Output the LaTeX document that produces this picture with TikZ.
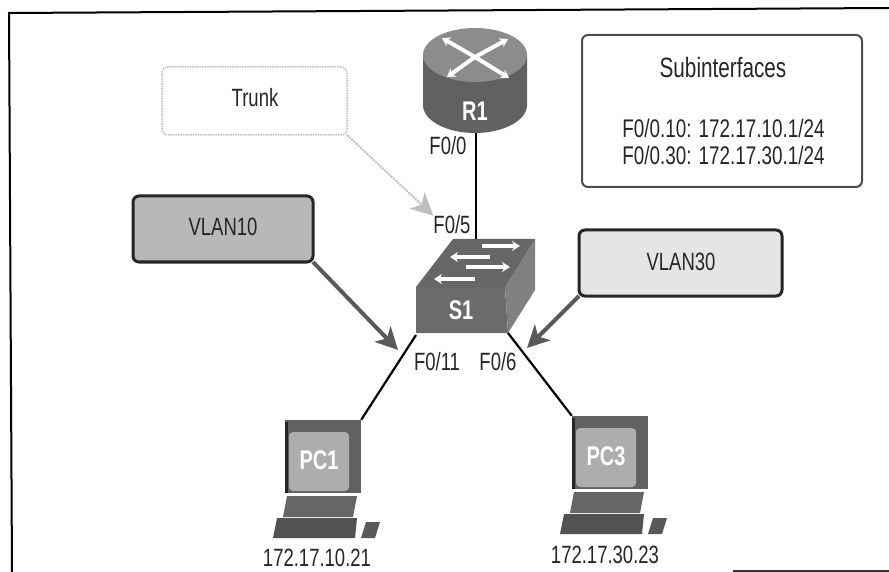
\documentclass[tikz,border=0pt]{standalone}
\usepackage{fontspec}
\setmainfont[FakeStretch=0.74]{Liberation Sans}
\usetikzlibrary{arrows.meta}
\tikzset{
    lbl/.style={font=\fontsize{25}{27}\selectfont, inner sep=0pt, text=black!85},
    devlabel/.style={font=\fontsize{27}{29}\selectfont\bfseries, inner sep=0pt, text=white},
    device/.style={inner sep=0pt, minimum width=#1},
    link/.style={line width=2.2pt, black},
    callout/.style={rounded corners=6pt, inner sep=0pt, outer sep=0pt, align=center, text=black!85},
    pointer/.style={line width=4pt, black!65, -{Stealth[inset=6pt,length=22pt,width=22pt]}},
    whitearrow/.style={line width=4pt, white, -{Stealth[length=8pt,width=10pt]}}
}
% x, y of the monitor top left, name, label
\newcommand{\pcicon}[4] {
	\fill [black!62] (#1,#2) rectangle (#1+76,#2+73);
	\fill [black!85] (#1,#2+2) rectangle (#1+3,#2+73);
	\fill [black!32, rounded corners=4pt] (#1+4,#2+12) rectangle (#1+64,#2+71);
	\fill [black!60] (#1+2,#2+76) -- (#1+72,#2+76) -- (#1+68,#2+97) -- (#1-2,#2+97) -- cycle;
	\fill [black!68] (#1-8,#2+98) -- (#1+72,#2+98) -- (#1+70,#2+118) -- (#1-12,#2+118) -- cycle;
	\fill [black!65] (#1+81,#2+102) -- (#1+95,#2+102) -- (#1+90,#2+118) -- (#1+76,#2+118) -- cycle;
	\node[device=76, minimum height=73] (#3) at (#1+38,#2+36.5) {};
	\node[devlabel] at (#1+34,#2+40) {#4};
}

\begin{document}
\begin{tikzpicture}[x=1pt,y=-1pt]
		\useasboundingbox (0,0) rectangle (889,572);

		% Frame
		\draw [line width=2pt, black] (12,572) -- (9,13) -- (889,8);
		\draw [line width=2pt, black!80] (733,571) -- (889,571);

		% Router
		\fill [black!62] (423,55) -- (423,105) arc [start angle=180, end angle=0, x radius=52, y radius=28] -- (527,55) -- cycle;
		\fill [black!45] (475,55) ellipse [x radius=52, y radius=27];
		\draw [whitearrow] (475,57) -- (442,38);
		\draw [whitearrow] (475,57) -- (509,78);
		\draw [whitearrow] (475,57) -- (508,39);
		\draw [whitearrow] (475,57) -- (447,77);
		\node[device=104, minimum height=105] (r1) at (476,80.5) {};
		\node[devlabel] at (475,111) {R1};

		% Switch
		\fill [black!58] (416,287) -- (505,287) -- (508,333) -- (416,333) -- cycle;
		\fill [black!50] (505,287) -- (535,239) -- (535,290) -- (508,333) -- cycle;
		\fill [black!60] (453,239) -- (535,239) -- (505,287) -- (416,287) -- cycle;
		\draw [whitearrow] (482,246) -- (520,246);
		\draw [whitearrow] (490,257) -- (450,257);
		\draw [whitearrow] (466,267) -- (510,267);
		\draw [whitearrow] (475,279) -- (434,279);
		\node[device=119, minimum height=94] (s1) at (476,286) {};
		\coordinate (s1left) at (416,335);
		\coordinate (s1right) at (508,333);
		\node[devlabel] at (461,310) {S1};

		% Hosts
		\pcicon{285}{420}{pc1}{PC1}
		\pcicon{572}{416}{pc3}{PC3}

		% Links
		\draw [link] (r1) -- (s1);
		\draw [link] (s1left) -- (pc1.north east);
		\draw [link] (s1right) -- (pc3.north west);

		% Port labels
		\node[lbl] (f00) at (448,146) {F0/0};
		\node[lbl] (f05) at (452,225) {F0/5};
		\node[lbl] (f011) at (437,362) {F0/11};
		\node[lbl] (f06) at (498,362) {F0/6};
		\node[lbl] (ip1) at (317,558) {172.17.10.21};
		\node[lbl] (ip3) at (605,555) {172.17.30.23};

		% Callouts
		\node[callout, draw=black!25, densely dotted, line width=1.5pt, minimum width=185, minimum height=68] (trunk) at (254.5,101) {};
		\node[lbl] at (255,98) {Trunk};
		\node[callout, draw=black!85, fill=black!28, line width=3pt, minimum width=180, minimum height=66] (vlan10) at (223,229) {};
		\node[lbl] at (223,227) {VLAN10};
		\node[callout, draw=black!85, fill=black!10, line width=3pt, minimum width=203, minimum height=66] (vlan30) at (680.5,263) {};
		\node[lbl] at (681,262) {VLAN30};
		\node[callout, draw=black!70, line width=2pt, minimum width=280, minimum height=152] (subif) at (722,111) {};
		\node[lbl, font=\fontsize{28}{30}\selectfont] at (723,67) {Subinterfaces};
		\node[lbl, font=\fontsize{25.5}{27}\selectfont] at (723.5,128) {F0/0.10: 172.17.10.1/24};
		\node[lbl, font=\fontsize{25.5}{27}\selectfont] at (723.5,155) {F0/0.30: 172.17.30.1/24};

		% Pointers
		\draw [pointer, line width=2pt, black!25, densely dotted] (trunk.south east) -- (f05.north west);
		\draw [pointer] (vlan10.south east) -- (398,350);
		\draw [pointer] (vlan30.south west) -- (527,348);
	\end{tikzpicture}
\end{document}
